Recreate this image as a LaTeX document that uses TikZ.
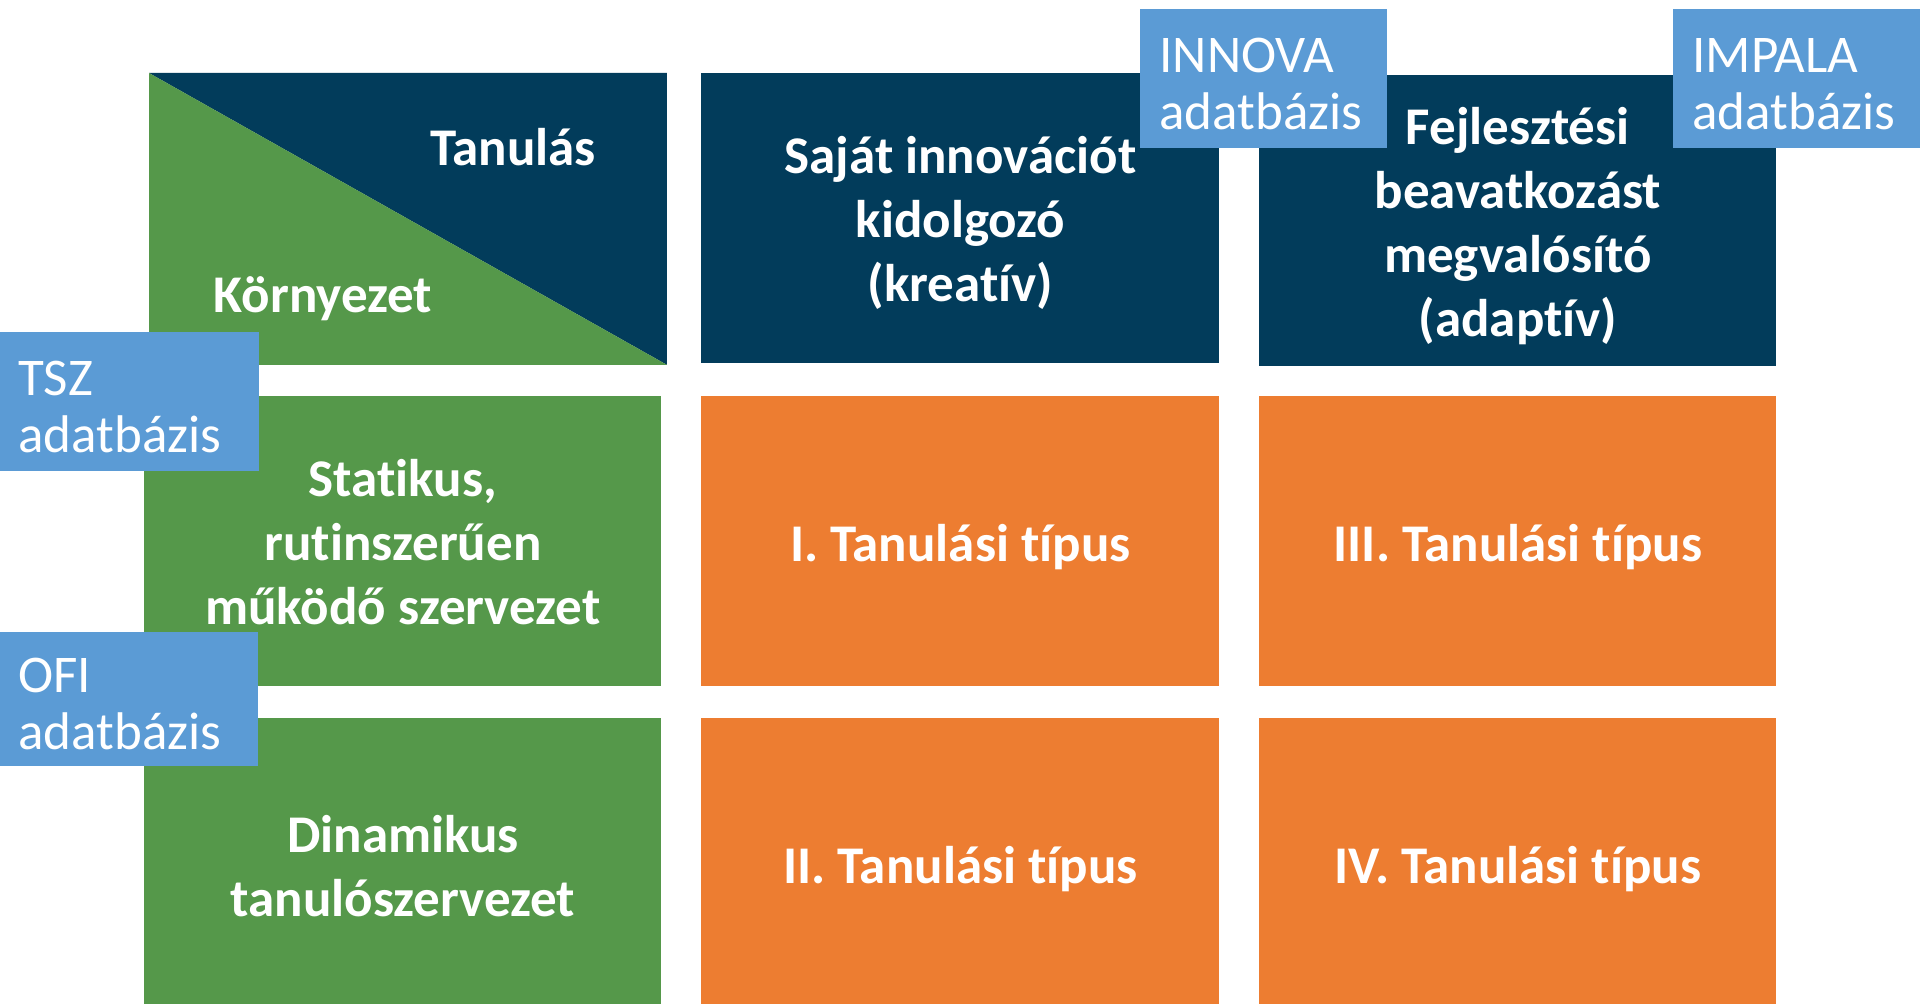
\documentclass[tikz,border=0pt]{standalone}
\usepackage{fontspec}
\setmainfont{Carlito}[Ligatures=NoCommon]
\definecolor{navy}{HTML}{023C5B}
\definecolor{leaf}{HTML}{55984A}
\definecolor{tangerine}{HTML}{ED7D31}
\definecolor{sky}{HTML}{5B9BD5}
\tikzset{
  cell/.style={anchor=north west, inner sep=0pt},
  lbl/.style={text=white, inner sep=0pt, align=center,
    font=\fontsize{26.5pt}{32pt}\selectfont\bfseries},
  dbtag/.style={anchor=north west, fill=sky, inner sep=0pt,
    minimum width=123.5pt, minimum height=69.5pt},
  tagtext/.style={anchor=west, text=white, align=left, inner sep=0pt,
    font=\fontsize{26.5pt}{28.5pt}\selectfont}
}
\begin{document}
\begin{tikzpicture}[x=0.5pt,y=-0.5pt]
\clip (0,0) rectangle (1920,1004);
\useasboundingbox (0,0) rectangle (1920,1004);
\fill[white] (0,0) rectangle (1920,1004);
% corner cell
\node[cell, minimum width=258.5pt, minimum height=145.5pt] (corner) at (149,73) {};
\fill[navy] (corner.north west) -- (corner.north east) -- (corner.south east) -- cycle;
\fill[leaf] (corner.north west) -- (corner.south east) -- (corner.south west) -- cycle;
\node[lbl] (tanulas) at (513,147) {Tanulás};
\node[lbl] (kornyezet) at (323,299) {Környezet};
% headers
\node[cell, fill=navy, minimum width=259pt, minimum height=145pt] (h1) at (701,73) {};
\node[lbl, yshift=-2.5pt] (h1t) at (h1.center) {Saját innovációt\\kidolgozó\\(kreatív)};
\node[cell, fill=navy, minimum width=258.5pt, minimum height=145.5pt] (h2) at (1259,75) {};
\node[lbl, yshift=-2.8pt] (h2t) at (h2.center) {Fejlesztési\\beavatkozást\\megvalósító\\(adaptív)};
% row 1
\node[cell, fill=leaf, minimum width=258.5pt, minimum height=145pt] (r1) at (144,396) {};
\node[lbl, yshift=-0.6pt] (r1t) at (r1.center) {Statikus,\\rutinszerűen\\működő szervezet};
\node[cell, fill=tangerine, minimum width=259pt, minimum height=145pt] (c11) at (701,396) {};
\node[lbl, yshift=-2.8pt] (c11t) at (c11.center) {I. Tanulási típus};
\node[cell, fill=tangerine, minimum width=258.5pt, minimum height=145pt] (c12) at (1259,396) {};
\node[lbl, yshift=-2.8pt] (c12t) at (c12.center) {III. Tanulási típus};
% row 2
\node[cell, fill=leaf, minimum width=258.5pt, minimum height=148pt] (r2) at (144,718) {};
\node[lbl, yshift=0.3pt] (r2t) at (r2.center) {Dinamikus\\tanulószervezet};
\node[cell, fill=tangerine, minimum width=259pt, minimum height=148pt] (c21) at (701,718) {};
\node[lbl, yshift=-1.2pt] (c21t) at (c21.center) {II. Tanulási típus};
\node[cell, fill=tangerine, minimum width=258.5pt, minimum height=148pt] (c22) at (1259,718) {};
\node[lbl, yshift=-1.2pt] (c22t) at (c22.center) {IV. Tanulási típus};
% database tags
\node[dbtag, minimum width=129.5pt] (tsz) at (0,332) {};
\node[tagtext] (tszt) at ([xshift=9pt,yshift=-2.5pt]tsz.west) {TSZ\\adatbázis};
\node[dbtag, minimum width=129pt, minimum height=67pt] (ofi) at (0,632) {};
\node[tagtext] (ofit) at ([xshift=9pt,yshift=-2.5pt]ofi.west) {OFI\\adatbázis};
\node[dbtag] (innova) at (1140,9) {};
\node[tagtext] (innovat) at ([xshift=9.5pt,yshift=-2.5pt]innova.west) {INNOVA\\adatbázis};
\node[dbtag] (impala) at (1673,9) {};
\node[tagtext] (impalat) at ([xshift=9.5pt,yshift=-2.5pt]impala.west) {IMPALA\\adatbázis};
\end{tikzpicture}
\end{document}
